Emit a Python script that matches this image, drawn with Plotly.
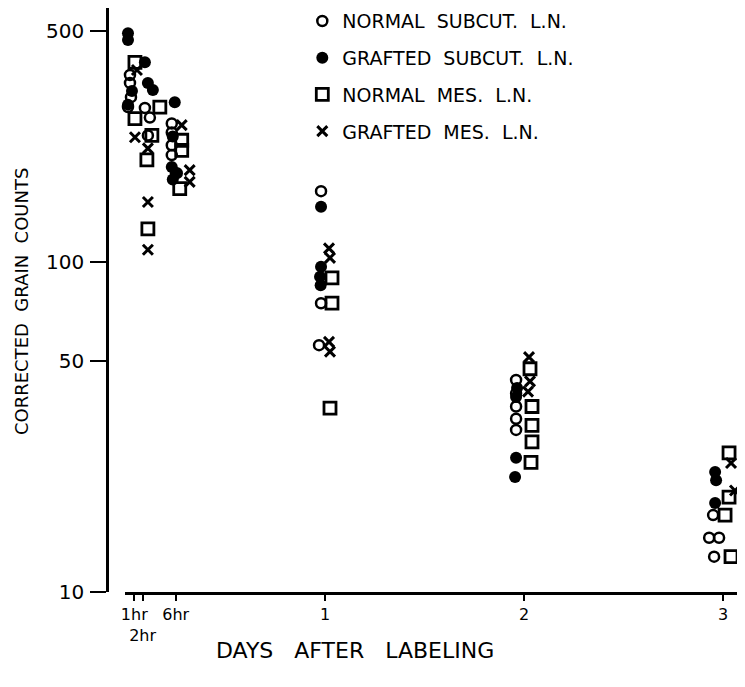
import plotly.graph_objects as go

# ---- data (x in days after labeling, y = corrected grain counts) ----
normal_subcut_x = [0.02, 0.02, 0.025, 0.01, 0.095, 0.12, 0.11,
                   0.23, 0.23, 0.23, 0.23, 0.255,
                   0.98, 0.98, 0.97,
                   1.96, 1.96, 1.96, 1.96, 1.96,
                   2.95, 2.93, 2.98, 2.955]
normal_subcut_y = [369, 349, 316, 295, 293, 274, 242,
                   263, 247, 226, 211, 186,
                   164, 75, 56,
                   43.9, 40.0, 36.5, 33.5, 31.0,
                   17.1, 14.6, 14.6, 12.8]

grafted_subcut_x = [0.01, 0.01, 0.095, 0.11, 0.135, 0.03, 0.01,
                    0.245, 0.235, 0.23, 0.235, 0.25,
                    0.98, 0.98, 0.975, 0.978,
                    1.965, 1.96, 1.96, 1.955,
                    2.96, 2.965, 2.96]
grafted_subcut_y = [494, 471, 403, 349, 332, 330, 300,
                    305, 240, 194, 178, 186,
                    147, 96.8, 90.2, 85.1,
                    41.5, 39.0, 25.5, 22.3,
                    23.1, 21.8, 18.6]

normal_mes_x = [0.045, 0.045, 0.17, 0.13, 0.105, 0.11,
                0.28, 0.28, 0.27,
                1.035, 1.035, 1.025,
                2.03, 2.04, 2.04, 2.04, 2.035,
                3.03, 3.03, 3.01, 3.04]
normal_mes_y = [403, 272, 295, 242, 204, 126,
                234, 218, 167,
                89.5, 75.1, 36.1,
                47.5, 36.5, 32.0, 28.5, 24.7,
                26.4, 19.4, 17.1, 12.8]

grafted_mes_x = [0.055, 0.045, 0.11, 0.11, 0.11,
                 0.28, 0.32, 0.32,
                 1.02, 1.025, 1.02, 1.025,
                 2.025, 2.03, 2.02,
                 3.04, 3.06]
grafted_mes_y = [382, 239, 221, 152, 109,
                 260, 190, 175,
                 110, 103, 57.3, 53.5,
                 51.5, 43.5, 40.5,
                 24.6, 20.3]

tick_vals_x = [1/24, 2/24, 6/24, 1, 2, 3]
tick_text_x = ["1hr", "<br>2hr", "6hr", "1", "2", "3"]
tick_vals_y = [10, 50, 100, 500]
tick_text_y = ["10", "50", "100", "500"]

NB = "\u00a0"
series_names = [f"NORMAL{NB*2}SUBCUT.{NB*2}L.N.",
                f"GRAFTED{NB*2}SUBCUT.{NB*2}L.N.",
                f"NORMAL{NB*2}MES.{NB*2}L.N.",
                f"GRAFTED{NB*2}MES.{NB*2}L.N."]
x_title = f"DAYS{NB*3}AFTER{NB*3}LABELING"
y_title = f"CORRECTED{NB*2}GRAIN{NB*2}COUNTS"

FONT = "DejaVu Sans"
# page has an 8px body margin: figure is sized so the plot lands where the reference has it
PW, PH = 630, 584  # plot area size in px

fig = go.Figure()

fig.add_trace(go.Scatter(x=normal_subcut_x, y=normal_subcut_y, mode="markers",
                         name=series_names[0], legendgroup="a", cliponaxis=False,
                         marker=dict(symbol="circle-open", size=10, color="black",
                                     line=dict(width=2.5, color="black"))))
fig.add_trace(go.Scatter(x=grafted_subcut_x, y=grafted_subcut_y, mode="markers",
                         name=series_names[1], legendgroup="b", cliponaxis=False,
                         marker=dict(symbol="circle", size=12, color="black",
                                     line=dict(width=0))))
fig.add_trace(go.Scatter(x=normal_mes_x, y=normal_mes_y, mode="markers",
                         name=series_names[2], legendgroup="c", cliponaxis=False,
                         marker=dict(symbol="square-open", size=12, color="black",
                                     line=dict(width=2.8, color="black"))))
fig.add_trace(go.Scatter(x=grafted_mes_x, y=grafted_mes_y, mode="markers",
                         name=series_names[3], legendgroup="d", cliponaxis=False,
                         marker=dict(symbol="x-thin", size=10, color="black",
                                     line=dict(width=3, color="black"))))

fig.update_layout(
    width=737, height=679,
    margin=dict(l=99, r=8, t=0, b=95, pad=0, autoexpand=False),
    paper_bgcolor="white", plot_bgcolor="white",
    font=dict(family=FONT, color="black", size=17),
    showlegend=True,
    legend=dict(x=0.31, y=1.01, xanchor="left", yanchor="top",
                bgcolor="rgba(0,0,0,0)", tracegroupgap=9,
                font=dict(family=FONT, size=19, color="black")),
    xaxis=dict(domain=[18/PW, 1], range=[-0.005, 3.07], automargin=False,
               tickvals=tick_vals_x, ticktext=tick_text_x, tickangle=0,
               ticks="outside", ticklen=6, tickwidth=2, tickcolor="black",
               showline=True, linecolor="black", linewidth=2.5,
               showgrid=False, zeroline=False,
               tickfont=dict(family=FONT, size=16, color="black")),
    yaxis=dict(type="log", range=[1, 2.770], anchor="free", position=0,
               automargin=False,
               tickvals=tick_vals_y, ticktext=tick_text_y,
               ticks="outside", ticklen=16, tickwidth=2, tickcolor="black",
               ticklabelstandoff=2,
               showline=True, linecolor="black", linewidth=2.5,
               showgrid=False, zeroline=False,
               tickfont=dict(family=FONT, size=20, color="black")),
    annotations=[
        dict(text=x_title, xref="paper", yref="paper",
             x=(355 - 107) / PW, y=-(650 - 592) / PH,
             xanchor="center", yanchor="middle", showarrow=False,
             font=dict(family=FONT, size=22, color="black")),
        dict(text=y_title, xref="paper", yref="paper",
             x=-(107 - 21) / PW, y=(592 - 302) / PH, textangle=-90,
             xanchor="center", yanchor="middle", showarrow=False,
             font=dict(family=FONT, size=18, color="black")),
    ],
)

fig.write_html("out.html")
